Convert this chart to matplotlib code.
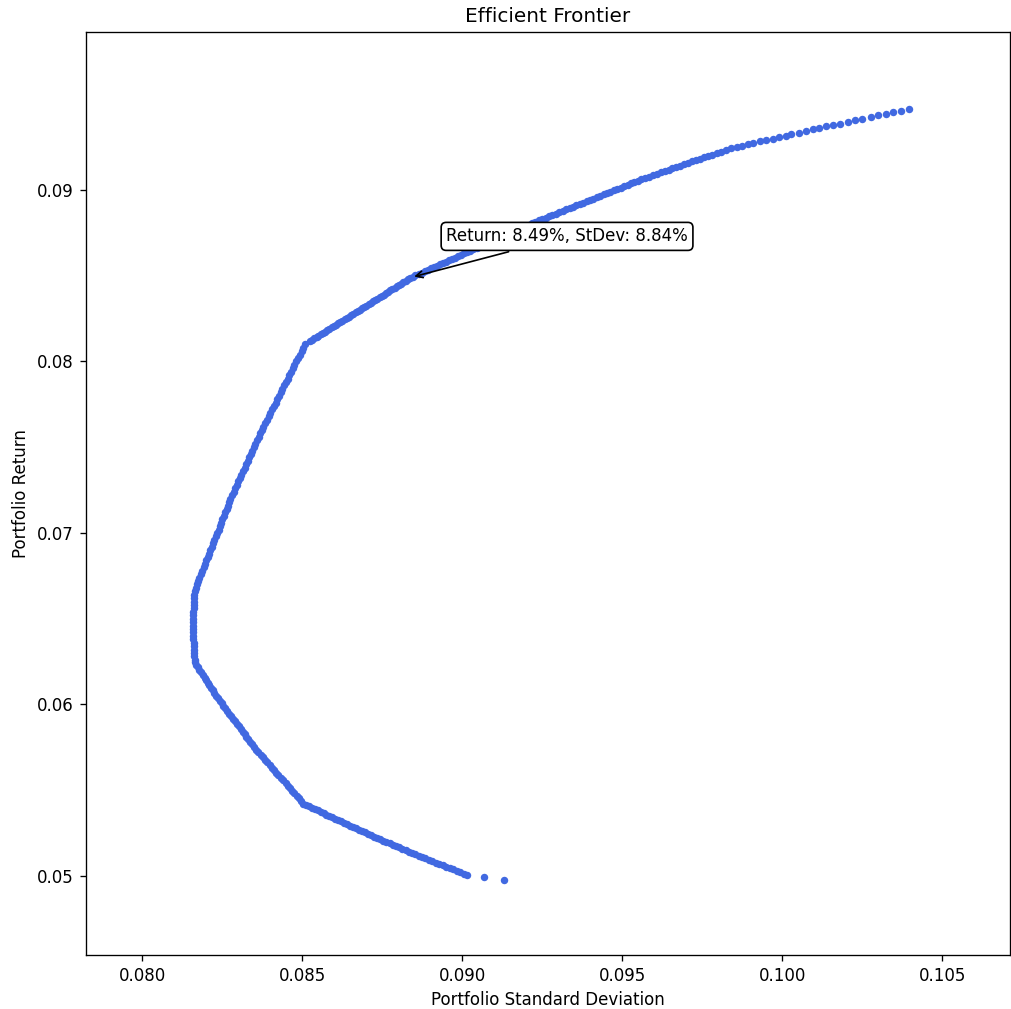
import numpy as np
import matplotlib
matplotlib.use("Agg")
import matplotlib.pyplot as plt

# ---- frontier points (std dev, return) ----
# two stray points at the very low end
tail_std = [0.09131, 0.09069]
tail_ret = [0.04977, 0.04994]

# lower branch, from the low end up to the first kink
lower_ret = [0.05006, 0.05014, 0.05022, 0.05030, 0.05038, 0.05046, 0.05054, 0.05062,
             0.05070, 0.05078, 0.05086, 0.05094, 0.05102, 0.05110, 0.05118, 0.05126,
             0.05134, 0.05142, 0.05150, 0.05158, 0.05166, 0.05174, 0.05182, 0.05190,
             0.05198, 0.05206, 0.05214, 0.05222, 0.05230, 0.05238, 0.05246, 0.05254,
             0.05262, 0.05270, 0.05278, 0.05286, 0.05294, 0.05302, 0.05310, 0.05318,
             0.05326, 0.05334, 0.05342, 0.05350, 0.05358, 0.05366, 0.05374, 0.05382,
             0.05390, 0.05398, 0.05406, 0.05414, 0.05422]
lower_std = [0.09016, 0.09005, 0.08994, 0.08983, 0.08972, 0.08961, 0.08950, 0.08939,
             0.08928, 0.08917, 0.08906, 0.08896, 0.08885, 0.08875, 0.08864, 0.08854,
             0.08844, 0.08833, 0.08823, 0.08812, 0.08802, 0.08792, 0.08783, 0.08773,
             0.08763, 0.08754, 0.08744, 0.08734, 0.08724, 0.08715, 0.08705, 0.08696,
             0.08686, 0.08677, 0.08667, 0.08658, 0.08649, 0.08639, 0.08630, 0.08620,
             0.08611, 0.08602, 0.08593, 0.08584, 0.08575, 0.08567, 0.08558, 0.08549,
             0.08540, 0.08531, 0.08522, 0.08513, 0.08504]

# from the kink towards the minimum-variance region
turn_ret = [0.05437, 0.05452, 0.05467, 0.05482, 0.05497, 0.05512, 0.05527, 0.05542,
            0.05557, 0.05572, 0.05587, 0.05602, 0.05617, 0.05632, 0.05647, 0.05662,
            0.05677, 0.05692, 0.05707, 0.05722, 0.05737, 0.05752, 0.05767, 0.05782,
            0.05797, 0.05812, 0.05827, 0.05842, 0.05857, 0.05872, 0.05887, 0.05902,
            0.05917, 0.05932, 0.05947, 0.05962, 0.05977, 0.05992, 0.06007, 0.06022,
            0.06037, 0.06052, 0.06067, 0.06082, 0.06097, 0.06112, 0.06127, 0.06142,
            0.06157, 0.06172, 0.06187, 0.06202, 0.06217, 0.06232, 0.06247]
turn_std = [0.08497, 0.08490, 0.08483, 0.08476, 0.08469, 0.08462, 0.08455, 0.08448,
            0.08441, 0.08434, 0.08426, 0.08419, 0.08412, 0.08405, 0.08398, 0.08391,
            0.08384, 0.08377, 0.08370, 0.08363, 0.08356, 0.08350, 0.08344, 0.08338,
            0.08332, 0.08326, 0.08320, 0.08314, 0.08308, 0.08302, 0.08296, 0.08290,
            0.08284, 0.08278, 0.08272, 0.08266, 0.08260, 0.08254, 0.08248, 0.08242,
            0.08236, 0.08231, 0.08226, 0.08220, 0.08215, 0.08210, 0.08205, 0.08200,
            0.08195, 0.08190, 0.08185, 0.08178, 0.08173, 0.08169, 0.08166]

# near-vertical stretch and the left arm up to the second kink
left_ret = [0.0626, 0.0628, 0.0630, 0.0632, 0.0634, 0.0636, 0.0638, 0.0640, 0.0642,
            0.0644, 0.0646, 0.0648, 0.0650, 0.0652, 0.0654, 0.0656, 0.0658, 0.0660,
            0.0662, 0.0664, 0.0666, 0.0668, 0.0670, 0.0672, 0.0674, 0.0676, 0.0678,
            0.0680, 0.0682, 0.0684, 0.0686, 0.0688, 0.0690, 0.0692, 0.0694, 0.0696,
            0.0698, 0.0700, 0.0702, 0.0704, 0.0706, 0.0708, 0.0710, 0.0712, 0.0714,
            0.0716, 0.0718, 0.0720, 0.0722, 0.0724, 0.0726, 0.0728, 0.0730, 0.0732,
            0.0734, 0.0736, 0.0738, 0.0740, 0.0742, 0.0744, 0.0746, 0.0748, 0.0750,
            0.0752, 0.0754, 0.0756, 0.0758, 0.0760, 0.0762, 0.0764, 0.0766, 0.0768,
            0.0770, 0.0772, 0.0774, 0.0776, 0.0778, 0.0780, 0.0782, 0.0784, 0.0786,
            0.0788, 0.0790, 0.0792, 0.0794, 0.0796, 0.0798, 0.0800, 0.0802, 0.0804,
            0.0806, 0.0808, 0.0810]
left_std = [0.08164, 0.08163, 0.08162, 0.08162, 0.08161, 0.08161, 0.08160, 0.08160, 0.08160,
            0.08160, 0.08160, 0.08160, 0.08160, 0.08160, 0.08160, 0.08161, 0.08161, 0.08162,
            0.08162, 0.08163, 0.08165, 0.08168, 0.08171, 0.08175, 0.08179, 0.08184, 0.08188,
            0.08192, 0.08197, 0.08201, 0.08205, 0.08209, 0.08213, 0.08218, 0.08222, 0.08226,
            0.08230, 0.08234, 0.08239, 0.08243, 0.08247, 0.08251, 0.08255, 0.08260, 0.08264,
            0.08268, 0.08272, 0.08276, 0.08281, 0.08286, 0.08291, 0.08296, 0.08300, 0.08305,
            0.08310, 0.08315, 0.08320, 0.08325, 0.08330, 0.08335, 0.08339, 0.08344, 0.08349,
            0.08354, 0.08359, 0.08364, 0.08369, 0.08374, 0.08379, 0.08384, 0.08390, 0.08395,
            0.08401, 0.08406, 0.08411, 0.08417, 0.08422, 0.08428, 0.08433, 0.08438, 0.08444,
            0.08449, 0.08455, 0.08460, 0.08466, 0.08471, 0.08476, 0.08482, 0.08487, 0.08493,
            0.08498, 0.08503, 0.08509]

# efficient (upper) branch, dense part
upper_ret = [0.08118, 0.08126, 0.08134, 0.08142, 0.08150, 0.08158, 0.08166, 0.08174,
             0.08182, 0.08190, 0.08198, 0.08206, 0.08214, 0.08222, 0.08230, 0.08238,
             0.08246, 0.08254, 0.08262, 0.08270, 0.08278, 0.08286, 0.08294, 0.08302,
             0.08310, 0.08318, 0.08326, 0.08334, 0.08342, 0.08350, 0.08358, 0.08366,
             0.08374, 0.08382, 0.08390, 0.08398, 0.08406, 0.08414, 0.08422, 0.08430,
             0.08438, 0.08446, 0.08454, 0.08462, 0.08470, 0.08478, 0.08486, 0.08494,
             0.08502, 0.08510, 0.08518, 0.08526, 0.08534, 0.08542, 0.08550, 0.08558,
             0.08566, 0.08574, 0.08582, 0.08590, 0.08598, 0.08606, 0.08614, 0.08622,
             0.08630, 0.08638, 0.08646, 0.08654, 0.08662, 0.08670, 0.08678, 0.08686,
             0.08694, 0.08702, 0.08710, 0.08718, 0.08726, 0.08734, 0.08742, 0.08750,
             0.08758, 0.08766, 0.08774, 0.08782, 0.08790, 0.08798, 0.08806, 0.08814,
             0.08822, 0.08830, 0.08838, 0.08846, 0.08854, 0.08862, 0.08870, 0.08878,
             0.08886, 0.08894, 0.08902, 0.08910, 0.08918, 0.08926, 0.08934, 0.08942,
             0.08950, 0.08958, 0.08966, 0.08974, 0.08982, 0.08990, 0.08998, 0.09006,
             0.09014, 0.09022, 0.09030, 0.09038, 0.09046, 0.09054, 0.09062, 0.09070,
             0.09078, 0.09086, 0.09094, 0.09102, 0.09110, 0.09118, 0.09126, 0.09134,
             0.09142, 0.09150, 0.09158, 0.09166, 0.09174, 0.09182]
upper_std = [0.08524, 0.08531, 0.08538, 0.08545, 0.08551, 0.08558, 0.08565, 0.08572,
             0.08579, 0.08585, 0.08592, 0.08599, 0.08606, 0.08613, 0.08619, 0.08626,
             0.08633, 0.08640, 0.08647, 0.08653, 0.08660, 0.08667, 0.08674, 0.08681,
             0.08687, 0.08694, 0.08701, 0.08708, 0.08715, 0.08721, 0.08728, 0.08735,
             0.08742, 0.08748, 0.08755, 0.08762, 0.08769, 0.08776, 0.08782, 0.08789,
             0.08796, 0.08803, 0.08810, 0.08816, 0.08823, 0.08830, 0.08837, 0.08845,
             0.08854, 0.08864, 0.08873, 0.08883, 0.08892, 0.08902, 0.08911, 0.08921,
             0.08930, 0.08940, 0.08950, 0.08959, 0.08969, 0.08978, 0.08988, 0.08997,
             0.09007, 0.09016, 0.09026, 0.09035, 0.09045, 0.09054, 0.09064, 0.09073,
             0.09083, 0.09092, 0.09102, 0.09111, 0.09121, 0.09130, 0.09140, 0.09149,
             0.09159, 0.09168, 0.09178, 0.09188, 0.09197, 0.09208, 0.09219, 0.09229,
             0.09240, 0.09251, 0.09261, 0.09272, 0.09282, 0.09293, 0.09304, 0.09314,
             0.09325, 0.09336, 0.09346, 0.09357, 0.09368, 0.09378, 0.09389, 0.09400,
             0.09410, 0.09421, 0.09431, 0.09442, 0.09453, 0.09463, 0.09474, 0.09485,
             0.09495, 0.09506, 0.09517, 0.09527, 0.09538, 0.09548, 0.09559, 0.09571,
             0.09584, 0.09596, 0.09608, 0.09620, 0.09633, 0.09645, 0.09657, 0.09669,
             0.09682, 0.09694, 0.09706, 0.09718, 0.09730, 0.09743]

# sparse top end, where the single points separate
top_ret = [0.09191, 0.09198, 0.09206, 0.09216, 0.09224, 0.09232, 0.09242, 0.09249,
           0.09257, 0.09265, 0.09271, 0.09284, 0.09290, 0.09298, 0.09309, 0.09317,
           0.09325, 0.09333, 0.09345, 0.09354, 0.09362, 0.09371, 0.09378, 0.09385,
           0.09394, 0.09406, 0.09415, 0.09425, 0.09436, 0.09445, 0.09453, 0.09462,
           0.09472]
top_std = [0.09756, 0.09768, 0.09781, 0.09796, 0.09810, 0.09825, 0.09841, 0.09858,
           0.09876, 0.09893, 0.09910, 0.09931, 0.09951, 0.09970, 0.09991, 0.10013,
           0.10029, 0.10053, 0.10074, 0.10095, 0.10116, 0.10138, 0.10160, 0.10182,
           0.10205, 0.10228, 0.10251, 0.10277, 0.10300, 0.10323, 0.10346, 0.10371,
           0.10395]

# highlighted portfolio
pick_ret = 0.0849
pick_std = 0.0884


def main():
    std = np.concatenate([tail_std, lower_std, turn_std, left_std, upper_std, top_std])
    ret = np.concatenate([tail_ret, lower_ret, turn_ret, left_ret, upper_ret, top_ret])

    fig = plt.figure(figsize=(1011 / 120, 1009 / 120), dpi=120)
    ax = fig.add_axes([0.0846, 0.0535, 0.9144, 0.9148])
    ax.scatter(std, ret, s=20, color='royalblue', linewidths=0)

    ax.annotate(f'Return: {pick_ret:.2%}, StDev: {pick_std:.2%}',
                xy=(pick_std, pick_ret), xytext=(0.0895, 0.087),
                bbox=dict(boxstyle='round', fc='white', ec='black'),
                arrowprops=dict(arrowstyle='->', color='black'))

    ax.set_xlim(0.07823, 0.10712)
    ax.set_ylim(0.04539, 0.09921)
    ax.set_title('Efficient Frontier')
    ax.set_xlabel('Portfolio Standard Deviation')
    ax.set_ylabel('Portfolio Return')
    fig.savefig('out.png', dpi=120)


if __name__ == "__main__":
    main()
